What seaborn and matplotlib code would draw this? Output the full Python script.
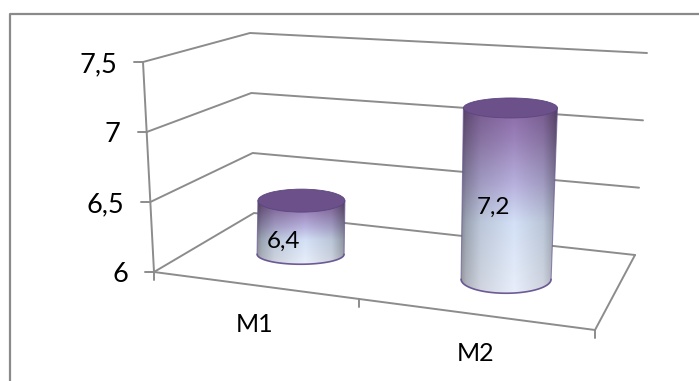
import numpy as np
import pandas as pd
import matplotlib
matplotlib.use("Agg")
import matplotlib.pyplot as plt
from matplotlib.patches import Ellipse, PathPatch
from matplotlib.path import Path
from matplotlib.colors import to_rgb
import seaborn as sns

categories = ["M1", "M2"]
values = [6.4, 7.2]
value_labels = ["6,4", "7,2"]
y_ticks = [6.0, 6.5, 7.0, 7.5]
y_tick_labels = ["6", "6,5", "7", "7,5"]

sns.set_theme(style="white")
plt.rcParams["font.family"] = ["Lato", "DejaVu Sans"]

GREY = "#8c8c8c"
W, H = 699, 381
fig = plt.figure(figsize=(W / 100, H / 100), dpi=100, facecolor="white")
ax = fig.add_axes([0, 0, 1, 1])
ax.set_xlim(0, W)
ax.set_ylim(H, 0)
ax.axis("off")

# Corners of the 3D box on screen: (across, depth) at the floor and at the top value.
FLOOR = {(0, 0): (154, 272), (1, 0): (595, 330), (0, 1): (254, 213), (1, 1): (635, 255)}
ROOF = {(0, 0): (143, 62), (1, 0): (610, 90), (0, 1): (250, 33), (1, 1): (647, 53)}
V0, V1 = y_ticks[0], y_ticks[-1]


def project(u, d, v):
    """Map category position u, depth d and value v to screen coordinates."""
    def blend(c):
        return sum(
            np.array(c[(i, j)], float) * (u if i else 1 - u) * (d if j else 1 - d)
            for i in (0, 1) for j in (0, 1)
        )
    t = (v - V0) / (V1 - V0)
    return (1 - t) * blend(FLOOR) + t * blend(ROOF)


# Walls and floor outline
rows = []
for k, v in enumerate(y_ticks):
    for u, d in [(0, 0), (0, 1), (1, 1)]:
        x, y = project(u, d, v)
        rows.append(dict(line=f"wall{k}", x=x, y=y))
for u, d in [(0, 0), (1, 0), (1, 1)]:
    x, y = project(u, d, V0)
    rows.append(dict(line="floor", x=x, y=y))
for v in (V0, V1):
    x, y = project(0, 0, v)
    rows.append(dict(line="axis", x=x, y=y))
lines = pd.DataFrame(rows)
sns.lineplot(data=lines, x="x", y="y", units="line", estimator=None, sort=False,
             color=GREY, lw=1.4, ax=ax, legend=False)
ax.set_xlim(0, W)
ax.set_ylim(H, 0)

# Tick marks and value-axis labels
for v, lab in zip(y_ticks, y_tick_labels):
    x, y = project(0, 0, v)
    ax.plot([x - 9, x], [y, y], color=GREY, lw=1.4)
    ax.text(x - 26, y + 2.5, lab, ha="right", va="center", fontsize=19.5, color="black")
for u in (0, 0.465, 1):
    x, y = project(u, 0, V0)
    ax.plot([x, x], [y, y + 8], color=GREY, lw=1.4)

# Outer chart frame, open on the right and at the bottom
ax.plot([10, 10, W], [H, 13.5, 13.5], color="#8a8a8a", lw=1.6)

# Vertical colour ramp of the cylinder body, top to bottom
stop_pos = [0.0, 0.18, 0.42, 0.62, 0.85, 1.0]
stop_col = ["#8a68a6", "#9c84bb", "#b8b2de", "#d3e0f6", "#e0e9f8", "#e9eefb"]
stop_rgb = np.array([to_rgb(c) for c in stop_col])
shade_x = [0.0, 0.05, 0.2, 0.55, 0.85, 0.95, 1.0]
shade_y = [0.55, 0.68, 0.86, 1.0, 0.86, 0.68, 0.58]


def cylinder(u, value, label, category, rb, rt, hb, ht, lean, label_x, label_y):
    x0, y0 = project(u, 0.5, V0)
    x1, y1 = project(u, 0.5, value)
    x1 += lean
    ny, nx = 200, 120
    ramp = np.stack([np.interp(np.linspace(0, 1, ny), stop_pos, stop_rgb[:, c]) for c in range(3)], axis=1)
    shade = np.interp(np.linspace(0, 1, nx), shade_x, shade_y)
    img = ramp[:, None, :] * shade[None, :, None]
    # Desaturated rims toward the lower part of the body
    rim = np.clip(1 - shade, 0, 1)[None, :, None] * np.linspace(0, 1, ny)[:, None, None]
    img = np.clip(img + rim * 0.22, 0, 1)

    t = np.linspace(0, np.pi, 60)
    lower = np.c_[x0 - rb * np.cos(t), y0 + hb * np.sin(t)]
    body = Path(np.vstack([[x1 - rt, y1], lower, [x1 + rt, y1], [x1 - rt, y1]]))
    im = ax.imshow(img, extent=[min(x0 - rb, x1 - rt), max(x0 + rb, x1 + rt), y0 + hb, y1],
                   aspect="auto", zorder=3, interpolation="bilinear")
    patch = PathPatch(body, transform=ax.transData, fc="none", ec="none")
    ax.add_patch(patch)
    im.set_clip_path(patch)
    ax.plot(lower[:, 0], lower[:, 1], color="#5f4a8c", lw=1.2, zorder=4, alpha=0.9)
    ax.plot([x0 - rb, x1 - rt], [y0, y1], color="#6a5a92", lw=0.8, zorder=4, alpha=0.7)
    ax.plot([x0 + rb, x1 + rt], [y0, y1], color="#6a5a92", lw=0.8, zorder=4, alpha=0.7)
    ax.add_patch(Ellipse((x1, y1), 2 * rt, 2 * ht, fc="#6b5089", ec="#5d4680", lw=0.6, zorder=5))
    ax.text(label_x, label_y, label, ha="center", va="center", fontsize=17.5, color="black", zorder=6)
    fx, fy = project(u, 0, V0)
    ax.text(fx - 3, fy + 39, category, ha="center", va="center", fontsize=18, color="black")


cylinder(0.235, values[0], value_labels[0], categories[0], 43.5, 43.5, 10, 11.5, 1.5, 283, 241)
cylinder(0.735, values[1], value_labels[1], categories[1], 45, 47, 14, 10, -2, 494, 207)

ax.set_xlim(0, W)
ax.set_ylim(H, 0)
fig.savefig("out.png", dpi=100, facecolor="white")
